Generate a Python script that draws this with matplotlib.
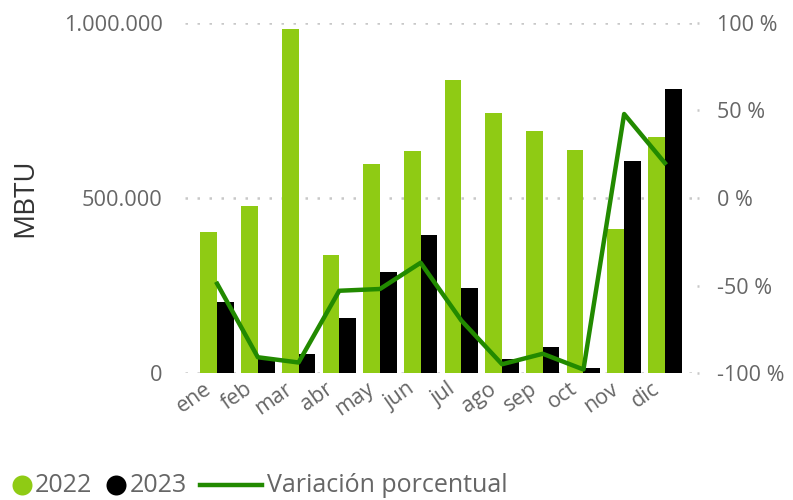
import matplotlib
matplotlib.use("Agg")
import matplotlib.pyplot as plt
import matplotlib.transforms as mtransforms
import numpy as np
from matplotlib.lines import Line2D
from matplotlib.ticker import FuncFormatter

months = ["ene", "feb", "mar", "abr", "may", "jun", "jul", "ago", "sep", "oct", "nov", "dic"]
v2022 = [403000, 477000, 983000, 337000, 597000, 634000, 837000, 743000, 691000, 637000, 411000, 674000]
v2023 = [203000, 42000, 54000, 157000, 289000, 394000, 243000, 41000, 74000, 14000, 606000, 811000]
variacion = [-49, -91, -94, -53, -52, -37, -70, -95, -89, -98, 48, 20]
legend_labels = ["2022", "2023", "Variación porcentual"]

c2022 = "#8FCB14"
c2023 = "#000000"
cline = "#228A00"
gray = "#666666"
gridc = "#C8C8C8"

plt.rcParams['font.family'] = ['Open Sans', 'DejaVu Sans']

W, H = 793, 500
fig = plt.figure(figsize=(W / 100, H / 100), dpi=100)
ax = fig.add_axes([185 / W, 1 - 373 / H, (697 - 185) / W, (373 - 23) / H])
x = np.arange(len(months))
w = 0.41
ax.bar(x - w/2, v2022, width=w, color=c2022, zorder=2)
ax.bar(x + w/2, v2023, width=w, color=c2023, zorder=2)
ax.set_xlim(-0.79, 11.79)
ax.set_ylim(0, 1000000)
ax.set_yticks([0, 500000, 1000000])
ax.yaxis.set_major_formatter(FuncFormatter(lambda v, p: f"{int(v):,}".replace(",", ".")))
ax.grid(axis='y', color=gridc, linestyle=(0, (1, 3.8)), linewidth=1.8, zorder=0)
for s in ax.spines.values():
    s.set_visible(False)
ax.tick_params(axis='y', length=0, labelsize=15.7, labelcolor=gray, pad=16)
ax.tick_params(axis='x', length=0, labelsize=15.5, labelcolor=gray, pad=4)
ax.set_xticks(x)
ax.set_xticklabels(months, rotation=35, ha='right', rotation_mode='anchor')
offset = mtransforms.ScaledTranslation(-0.14, 0, fig.dpi_scale_trans)
for lbl in ax.get_xticklabels():
    lbl.set_transform(lbl.get_transform() + offset)
ax.set_ylabel("MBTU", fontsize=20, color="#333333", labelpad=18)

ax2 = ax.twinx()
ax2.plot(x, variacion, color=cline, linewidth=3.2, zorder=3)
ax2.set_ylim(-100, 100)
ax2.set_yticks([-100, -50, 0, 50, 100])
ax2.set_yticklabels(["-100 %", "-50 %", "0 %", "50 %", "100 %"])
for s in ax2.spines.values():
    s.set_visible(False)
ax2.tick_params(axis='y', length=1.6, width=1.8, color=gridc, direction='out',
                labelsize=15.5, labelcolor=gray, pad=13)

# manual legend (pixel layout like the reference)
fig.canvas.draw()
r = fig.canvas.get_renderer()
yc = 1 - 485 / H
def px(v):
    return v / W

cur = 12
for lab, col in zip(legend_labels[:2], [c2022, c2023]):
    fig.add_artist(Line2D([px(cur + 10)], [yc], marker='o', markersize=14.4,
                          color=col, markeredgewidth=0, linestyle='none'))
    t = fig.text(px(cur + 23), yc, lab, fontsize=18, color=gray, va='center', ha='left')
    bb = t.get_window_extent(r)
    cur = bb.x1 + 14
lx0 = cur - 1
fig.add_artist(Line2D([px(lx0), px(lx0 + 62)], [yc, yc], color=cline, linewidth=3.2))
fig.text(px(lx0 + 67), yc, legend_labels[2], fontsize=18, color=gray, va='center', ha='left')

fig.savefig("out.png", dpi=100)
